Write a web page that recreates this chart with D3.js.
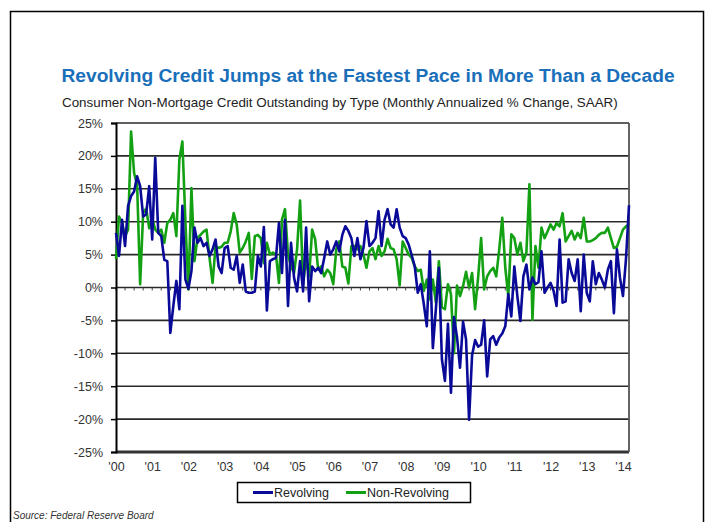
<!DOCTYPE html>
<html>
<head>
<meta charset="utf-8">
<script src="https://cdn.jsdelivr.net/npm/d3@7"></script>
<style>
  body { margin: 0; background: #fff; }
  svg { font-family: "Liberation Sans", Arial, sans-serif; }
</style>
</head>
<body>
<svg width="707" height="522"></svg>
<script>
// year labels on the category axis, one every 12 months starting Jan 2000
const yearLabels = ["'00", "'01", "'02", "'03", "'04", "'05", "'06", "'07",
  "'08", "'09", "'10", "'11", "'12", "'13", "'14"];

const yTicks = [25, 20, 15, 10, 5, 0, -5, -10, -15, -20, -25];

// monthly annualized % change, Jan 2000 .. Mar 2014
const revolving = [
  8.3, 4.8, 10.3, 6.3, 12.4, 13.9, 14.6, 16.9, 15.4, 10.8, 11.1, 15.4,
  7.3, 19.7, 8.3, 7.8, 4.2, 4.0, -6.9, -2.8, 1.0, -3.3, 12.4, 1.2,
  -0.2, 2.5, 9.1, 6.8, 7.5, 6.3, 6.8, 4.8, 5.8, 7.3, 3.2, 2.2,
  6.0, 6.3, 3.0, 2.7, 4.8, 0.7, 3.5, -0.6, -0.8, -0.8, -0.6, 4.8,
  3.2, 9.2, -3.5, 4.0, 4.3, 4.5, 9.8, 2.2, 10.3, -2.8, 6.8, 1.5,
  -0.6, 4.0, -0.6, 9.1, -2.1, 3.2, 2.5, 3.0, 2.2, 4.5, 7.0, 5.0,
  5.8, 7.0, 5.5, 8.0, 9.3, 8.6, 7.5, 4.8, 7.5, 4.3, 6.0, 10.1,
  6.3, 6.8, 7.5, 11.6, 6.3, 10.3, 11.9, 9.6, 9.1, 11.9, 9.1, 7.8,
  7.5, 6.5, 4.9, 3.2, -0.8, 0.5, -2.5, -5.9, 5.5, -9.2, -3.3, 3.0,
  -10.9, -14.2, -5.5, -16.0, -4.5, -7.5, -12.2, -5.2, -7.9, -20.1, -10.3, -8.0,
  -9.0, -8.7, -5.0, -13.5, -7.9, -7.4, -8.7, -7.6, -7.0, -5.9, -1.0, -4.4,
  3.2, -1.3, -5.1, 1.7, 3.5, -0.3, 1.5, 0.5, 0.8, 5.5, -0.8, 0.0,
  0.7, -0.5, -2.8, 7.3, -2.3, -2.1, 4.3, 2.2, 1.0, 4.3, -3.6, 5.0,
  -0.8, -2.1, 4.0, 0.5, 2.2, 1.2, 0.0, 2.7, 4.0, -3.9, 5.8, 1.5,
  -1.3, 4.3, 12.5
];

const nonRevolving = [
  4.3, 10.8, 9.8, 7.8, 8.8, 23.7, 17.4, 15.6, 0.5, 11.3, 12.0, 9.0,
  10.5, 8.8, 8.3, 8.8, 6.8, 9.8, 10.3, 11.3, 7.8, 19.5, 22.2, 10.0,
  -0.3, 15.1, 4.0, 7.5, 8.0, 8.5, 8.8, 4.5, 0.7, 6.3, 6.0, 6.2,
  6.8, 6.8, 8.5, 11.3, 9.6, 5.3, 6.0, 7.0, 8.3, 1.3, 7.8, 8.0,
  7.5, 3.7, 6.8, 5.0, 5.3, 5.0, 0.7, 10.3, 11.9, 5.0, 3.2, 2.2,
  5.8, 13.2, 0.5, 4.3, 1.7, 8.8, 7.3, 2.7, 3.2, 1.7, 2.7, 2.2,
  0.5, 5.8, 7.0, 3.2, 3.0, 0.6, 6.3, 6.3, 5.8, 6.3, 5.0, 3.0,
  5.5, 6.0, 4.3, 6.3, 4.8, 5.5, 7.4, 6.0, 5.8, 4.3, 0.3, 7.0,
  6.0, 5.0, 4.5, 3.2, 2.5, 2.7, -0.5, 1.2, -1.8, 1.2, -2.3, 4.0,
  -3.0, -3.3, 0.5, -1.0, -10.0, 0.3, -1.3, 0.2, 2.4, 0.0, 2.2, -3.3,
  1.5, 7.5, -0.3, 1.7, 2.5, 3.0, 1.7, 5.8, 10.6, 3.0, -1.3, 8.1,
  7.5, 5.0, 6.8, 4.0, 5.3, 15.7, -4.9, 6.3, 3.0, 9.1, 7.5, 8.5,
  9.6, 8.8, 9.8, 9.3, 11.3, 7.0, 7.8, 8.6, 7.3, 8.3, 7.5, 10.6,
  7.0, 7.0, 7.2, 7.5, 8.0, 8.3, 8.3, 9.1, 7.5, 6.0, 6.2, 7.5,
  8.8, 9.3, 9.6
];

const seriesNames = ["Revolving", "Non-Revolving"];
const seriesColors = ["#0a0a99", "#13a113"];

function main() {
  let svg = d3.select("svg"),
    left = 116,
    top = 123,
    width = 629 - left,
    height = 452 - top;

  // outer frame
  svg.append("rect")
    .attr("x", 10.5).attr("y", 11.5)
    .attr("width", 693).attr("height", 530)
    .attr("fill", "none").attr("stroke", "#000").attr("stroke-width", 1.5);

  svg.append("text")
    .attr("x", 368).attr("y", 82)
    .attr("text-anchor", "middle")
    .attr("font-size", "19.2px").attr("font-weight", "bold")
    .attr("fill", "#1a6fba")
    .text("Revolving Credit Jumps at the Fastest Pace in More Than a Decade");

  svg.append("text")
    .attr("x", 62).attr("y", 107)
    .attr("font-size", "13.4px")
    .attr("fill", "#222")
    .text("Consumer Non-Mortgage Credit Outstanding by Type (Monthly Annualized % Change, SAAR)");

  let xScale = d3.scaleLinear().domain([0, revolving.length - 1]).range([0, width]),
    yScale = d3.scaleLinear().domain([-25, 25]).range([height, 0]);

  let g = svg.append("g").attr("transform", "translate(" + left + "," + top + ")");

  // horizontal gridlines
  g.selectAll(".grid")
    .data(yTicks)
    .enter()
    .append("line")
    .attr("x1", 0).attr("x2", width)
    .attr("y1", d => yScale(d)).attr("y2", d => yScale(d))
    .attr("stroke", d => d === -25 ? "#333" : "#2a2a2a")
    .attr("stroke-width", d => d === -25 ? 3 : 1.6);

  // right border of plot
  g.append("line")
    .attr("x1", width).attr("x2", width)
    .attr("y1", 0).attr("y2", height)
    .attr("stroke", "#555").attr("stroke-width", 1.8);

  // quarterly ticks on the zero line
  g.selectAll(".qtick")
    .data(d3.range(0, revolving.length, 3))
    .enter()
    .append("line")
    .attr("x1", d => xScale(d)).attr("x2", d => xScale(d))
    .attr("y1", yScale(0)).attr("y2", yScale(0) + 3)
    .attr("stroke", "#444").attr("stroke-width", 1);

  // y axis
  let yAxis = g.append("g")
    .call(d3.axisLeft(yScale).tickValues(yTicks)
      .tickFormat(d => d + "%").tickSize(5).tickPadding(8));
  yAxis.select(".domain").attr("stroke", "#000").attr("stroke-width", 2);
  yAxis.selectAll(".tick line").attr("stroke", "#000").attr("stroke-width", 1.5);
  yAxis.selectAll("text")
    .attr("font-size", "12.5px").attr("fill", "#333")
    .attr("font-family", "Liberation Sans, Arial, sans-serif");

  // x axis labels
  let xAxis = g.append("g")
    .attr("transform", "translate(0," + height + ")")
    .call(d3.axisBottom(xScale)
      .tickValues(yearLabels.map((d, i) => i * 12))
      .tickFormat((d, i) => yearLabels[i])
      .tickSize(0).tickPadding(10));
  xAxis.select(".domain").remove();
  xAxis.selectAll("text")
    .attr("font-size", "12.5px").attr("fill", "#333")
    .attr("font-family", "Liberation Sans, Arial, sans-serif");

  let line = d3.line()
    .x((d, i) => xScale(i))
    .y(d => yScale(d));

  // non-revolving drawn first, revolving on top
  g.append("path")
    .datum(nonRevolving)
    .attr("d", line)
    .attr("fill", "none")
    .attr("stroke", seriesColors[1])
    .attr("stroke-width", 2.6)
    .attr("stroke-linejoin", "round");

  g.append("path")
    .datum(revolving)
    .attr("d", line)
    .attr("fill", "none")
    .attr("stroke", seriesColors[0])
    .attr("stroke-width", 2.6)
    .attr("stroke-linejoin", "round");

  // legend
  let legend = svg.append("g");
  legend.append("rect")
    .attr("x", 237.5).attr("y", 482.5)
    .attr("width", 233).attr("height", 20)
    .attr("fill", "#fff").attr("stroke", "#000").attr("stroke-width", 1.5);

  let legendX = [253, 346];
  seriesNames.forEach(function (name, i) {
    legend.append("line")
      .attr("x1", legendX[i]).attr("x2", legendX[i] + 20)
      .attr("y1", 492.5).attr("y2", 492.5)
      .attr("stroke", seriesColors[i]).attr("stroke-width", 3);
    legend.append("text")
      .attr("x", legendX[i] + 21).attr("y", 497)
      .attr("font-size", "12.5px").attr("fill", "#222")
      .text(name);
  });

  svg.append("text")
    .attr("x", 13).attr("y", 519)
    .attr("font-size", "10px").attr("font-style", "italic")
    .attr("fill", "#333")
    .text("Source: Federal Reserve Board");
}

main();
</script>
</body>
</html>
